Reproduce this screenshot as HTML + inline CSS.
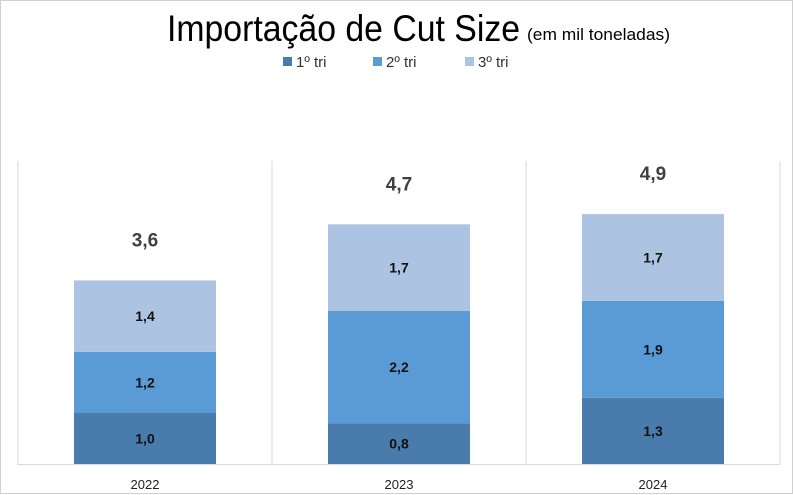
<!DOCTYPE html>
<html><head><meta charset="utf-8"><style>
html,body{margin:0;padding:0;background:#fff;}
svg{display:block;font-family:"Liberation Sans",sans-serif;}
</style></head><body>
<svg id="chart" width="793" height="495" viewBox="0 0 793 495">
<rect x="0.5" y="0.5" width="792" height="493" fill="#fff" stroke="#d0d0d0"/>
<text x="167" y="41" font-size="37" fill="#000" textLength="353" lengthAdjust="spacingAndGlyphs">Importação de Cut Size</text>
<text x="527" y="40" font-size="17" fill="#000" textLength="143" lengthAdjust="spacingAndGlyphs">(em mil toneladas)</text>
<g id="legend"></g>
<g id="grid"></g>
<g id="bars"></g>
</svg>
<script>
const categories = ["2022", "2023", "2024"];
const seriesNames = ["1º tri", "2º tri", "3º tri"];
const tri1 = [1.0, 0.8, 1.3];
const tri2 = [1.2, 2.2, 1.9];
const tri3 = [1.4, 1.7, 1.7];
const totals = [3.6, 4.7, 4.9];

const colors = ["#4a7bad", "#5b9bd5", "#adc3e2"];
const NS = "http://www.w3.org/2000/svg";
const plotL = 18, plotR = 780, baseY = 464, topY = 161;
const bandW = (plotR - plotL) / categories.length;
const barW = 142;
const pxPerUnit = 51;
function xBand(i){ return plotL + bandW * i; }
function y(v){ return baseY - v * pxPerUnit; }
function mk(tag, attrs, parent){
  const e = document.createElementNS(NS, tag);
  for (const k in attrs) e.setAttribute(k, attrs[k]);
  parent.appendChild(e); return e;
}
const fmt = v => v.toFixed(1).replace(".", ",");

const grid = document.getElementById("grid");
for (let i = 0; i <= categories.length; i++) {
  const l = mk("line", {x1: xBand(i), x2: xBand(i), y1: topY, y2: baseY, stroke: "#d9d9d9", "stroke-width": 1}, grid);
  
  
}
const ax = mk("line", {x1: plotL - 1, x2: plotR, y1: baseY + 0.5, y2: baseY + 0.5, stroke: "#d9d9d9", "stroke-width": 1}, grid);



const bars = document.getElementById("bars");
const series = [tri1, tri2, tri3];
categories.forEach((c, i) => {
  const cx = xBand(i) + bandW / 2;
  let cum = 0;
  series.forEach((s, k) => {
    const v = s[i];
    const y0 = y(cum), y1 = y(cum + v);
    const r = mk("rect", {x: cx - barW / 2, y: y1, width: barW, height: y0 - y1, fill: colors[k]}, bars);
    
    
    const t = mk("text", {x: cx, y: (y0 + y1) / 2 + 5, "text-anchor": "middle", "font-size": 14, "font-weight": "bold", fill: "#111"}, bars);
    t.textContent = fmt(v);
    
    
    cum += v;
  });
  const tt = mk("text", {x: cx, y: y(totals[i]) - 34, "text-anchor": "middle", "font-size": 19, "font-weight": "bold", fill: "#404040"}, bars);
  tt.textContent = fmt(totals[i]);
  
  
  const xl = mk("text", {x: cx, y: 489, "text-anchor": "middle", "font-size": 13, fill: "#222"}, bars);
  xl.textContent = c;
  
  
});

const legend = document.getElementById("legend");
const legX = [283, 373, 465];
seriesNames.forEach((n, k) => {
  const sw = mk("rect", {x: legX[k], y: 57, width: 9, height: 9, fill: colors[k]}, legend);
  
  
  const t = mk("text", {x: legX[k] + 13, y: 67, "font-size": 15, fill: "#333"}, legend);
  t.textContent = n;
  
  
});
</script>
</body></html>
